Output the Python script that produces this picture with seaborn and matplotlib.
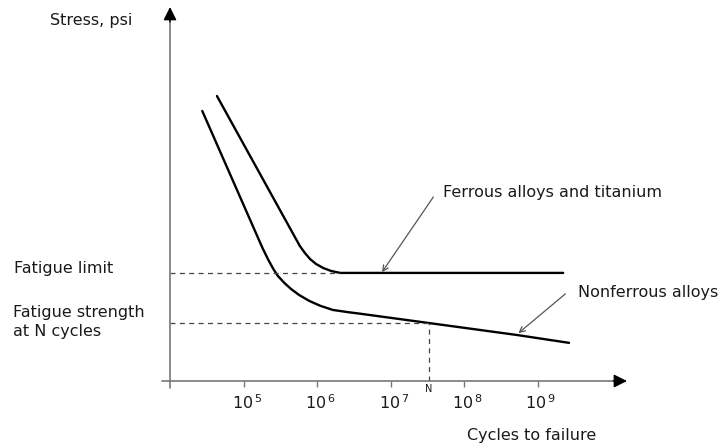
import numpy as np
import pandas as pd
import matplotlib
matplotlib.use("Agg")
import matplotlib.pyplot as plt
import matplotlib.transforms as mtransforms
import seaborn as sns

# S-N curve values (log10 of cycles, stress in arbitrary units)
ferrous_log_n = [4.63, 5.76, 5.83, 5.90, 5.98, 6.08, 6.19, 6.31, 9.35]
ferrous_stress = [76.2, 36.1, 34.2, 32.6, 31.3, 30.2, 29.4, 28.9, 28.9]

nonferrous_log_n = [4.43, 5.25, 5.33, 5.40, 5.46, 5.55, 5.64, 5.75, 5.89, 6.04, 6.21,
                    6.42, 6.58, 7.52, 8.72, 9.43]
nonferrous_stress = [72.2, 35.6, 32.4, 29.9, 28.1, 26.2, 24.6, 23.0, 21.4, 20.1, 19.0,
                     18.4, 18.0, 15.5, 12.3, 10.2]

fatigue_limit = 28.9
fatigue_strength_n = 15.5
n_log = 7.52

tick_exps = [5, 6, 7, 8, 9]
tick_labels = [r"$10^{\,5}$", r"$10^{\,6}$", r"$10^{\,7}$", r"$10^{\,8}$", r"$10^{\,9}$"]

sns.set_style("white")
plt.rcParams["font.family"] = ["DejaVu Sans"]
plt.rcParams["mathtext.fontset"] = "dejavusans"

df = pd.concat([
    pd.DataFrame({"cycles": 10.0 ** np.array(ferrous_log_n), "stress": ferrous_stress, "alloy": "Ferrous"}),
    pd.DataFrame({"cycles": 10.0 ** np.array(nonferrous_log_n), "stress": nonferrous_stress, "alloy": "Nonferrous"}),
])

W, H = 722, 448
fig = plt.figure(figsize=(W / 100, H / 100), dpi=100)
ax = fig.add_axes([170 / W, (H - 381) / H, (627 - 170) / W, (381 - 7) / H])
ax.set_xscale("log")

sns.lineplot(data=df, x="cycles", y="stress", units="alloy", estimator=None, sort=False,
             color="black", linewidth=1.7, ax=ax, legend=False)

xmin, xmax = 10 ** 3.99, 10 ** 10.22
ax.set_xlim(xmin, xmax)
ax.set_ylim(0, 100)

# dashed guide lines
dash = dict(ls=(0, (4, 3.5)), color="#444444", lw=0.9)
ax.plot([xmin, 10 ** 6.31], [fatigue_limit, fatigue_limit], **dash)
ax.plot([xmin, 10 ** n_log], [fatigue_strength_n, fatigue_strength_n], **dash)
ax.plot([10 ** n_log, 10 ** n_log], [0, fatigue_strength_n], **dash)

# axes drawn as arrows
for s in ax.spines.values():
    s.set_visible(False)
axis_col = "#777777"
ax.plot([-0.018, 0.985], [0, 0], transform=ax.transAxes, color=axis_col, lw=1.2, clip_on=False)
ax.plot([0, 0], [-0.02, 0.98], transform=ax.transAxes, color=axis_col, lw=1.2, clip_on=False)
ax.annotate("", xy=(1, 0), xytext=(0.97, 0), xycoords="axes fraction",
            arrowprops=dict(arrowstyle="-|>", color="black", mutation_scale=20, shrinkA=0, shrinkB=0))
ax.annotate("", xy=(0, 1), xytext=(0, 0.96), xycoords="axes fraction",
            arrowprops=dict(arrowstyle="-|>", color="black", mutation_scale=20, shrinkA=0, shrinkB=0))

ax.set_yticks([])
ax.set_xticks([10.0 ** e for e in tick_exps])
ax.set_xticklabels(tick_labels, fontsize=11.5, color="#1a1a1a")
ax.xaxis.set_minor_locator(matplotlib.ticker.NullLocator())
ax.tick_params(axis="x", direction="out", length=4, width=1, color=axis_col, pad=5, bottom=True)
shift = mtransforms.ScaledTranslation(3 / 100, 0, fig.dpi_scale_trans)
for lab in ax.get_xticklabels():
    lab.set_transform(lab.get_transform() + shift)
ax.set_xlabel("")
ax.set_ylabel("")

# pointer arrows to the curves
ax.annotate("", xy=(10 ** 6.88, 29.1), xytext=(10 ** 7.58, 49.2),
            arrowprops=dict(arrowstyle="->", color="#555555", lw=0.9, shrinkA=0, shrinkB=0))
ax.annotate("", xy=(10 ** 8.74, 12.8), xytext=(10 ** 9.38, 23.3),
            arrowprops=dict(arrowstyle="->", color="#555555", lw=0.9, shrinkA=0, shrinkB=0))

txt = dict(color="#1a1a1a", fontsize=11.5, va="center", ha="left")
fig.text(50 / W, 1 - 21 / H, "Stress, psi", **txt)
fig.text(14 / W, 1 - 268 / H, "Fatigue limit", **txt)
fig.text(13 / W, 1 - 322 / H, "Fatigue strength\nat N cycles", linespacing=1.35, **txt)
fig.text(443 / W, 1 - 192 / H, "Ferrous alloys and titanium", **txt)
fig.text(578 / W, 1 - 292 / H, "Nonferrous alloys", **txt)
fig.text(467 / W, 1 - 435 / H, "Cycles to failure", **txt)
fig.text(429 / W, 1 - 389 / H, "N", color="#1a1a1a", fontsize=7, ha="center", va="center")

fig.savefig("out.png", dpi=100)
